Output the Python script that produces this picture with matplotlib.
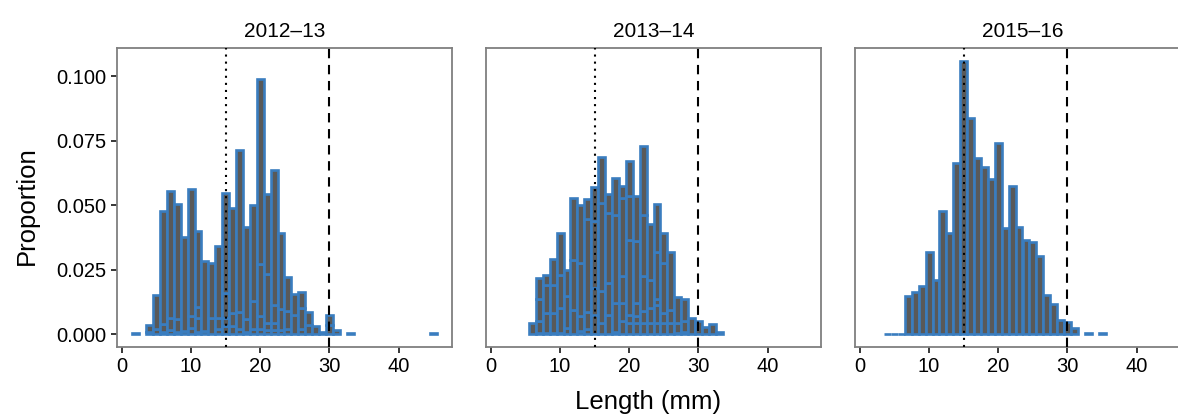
import numpy as np
import matplotlib
matplotlib.use('Agg')
import matplotlib.pyplot as plt

plt.rcParams['font.family'] = ['Liberation Sans', 'DejaVu Sans']

seasons = ['2012\u201313', '2013\u201314', '2015\u201316']

# Bin centres (mm) and stacked segment heights (per mille) for each season.
# splits are the heights where one stacked group ends and the next starts.
bins_1213 = [2, 4, 5, 6, 7, 8, 9, 10, 11, 12, 13, 14, 15, 16, 17, 18, 19, 20,
             21, 22, 23, 24, 25, 26, 27, 28, 29, 30, 31, 33, 45]
total_1213 = [0.3, 3.4, 15.1, 47.8, 55.7, 50.3, 37.6, 56.3, 40.1, 28.2, 27.6, 34.1,
              54.8, 49.1, 71.4, 41.4, 50.0, 98.8, 54.5, 63.7, 39.4, 22.3, 15.4,
              16.4, 8.6, 3.0, 0.7, 7.6, 1.5, 0.3, 0.3]
splits_1213 = [[], [1.0], [2.1], [1.0, 4.1], [1.5, 6.1], [1.0, 5.7], [1.2], [2.4, 7.0],
               [1.0, 6.2, 10.4], [1.2], [6.3], [1.8, 6.1], [3.1, 6.1, 16.0],
               [3.1, 8.0], [1.8, 8.5], [1.0, 5.7], [2.0, 12.8], [1.8, 7.2, 27.2],
               [1.5, 4.4, 23.3], [1.5, 4.4, 11.2], [1.5, 9.8], [2.0, 8.9], [7.6],
               [1.8, 10.2], [3.7], [], [], [3.7], [], [], []]

bins_1314 = list(range(6, 34))
total_1314 = [4.4, 21.9, 22.8, 29.3, 39.4, 24.7, 53.0, 49.9, 52.4, 57.2, 68.7, 54.3,
              60.7, 57.6, 67.3, 53.6, 72.8, 42.9, 50.5, 39.2, 32.0, 14.3, 13.8, 6.3,
              5.0, 2.8, 4.1, 0.8]
splits_1314 = [[], [0.5, 5.0, 13.7], [0.5, 8.2, 19.2], [0.5, 8.2, 19.2],
               [0.5, 10.2, 22.8], [2.4, 14.7], [9.3, 28.6], [1.2, 7.2, 27.6],
               [1.8, 8.5, 44.6], [7.6, 17.9, 43.7], [4.4, 16.6, 50.8],
               [7.6, 19.8, 46.9], [1.0, 12.1, 46.3], [5.0, 12.1, 22.4, 52.7],
               [4.4, 7.6, 36.6, 53.4], [4.4, 7.0, 12.1, 36.0], [4.4, 8.9, 22.4, 46.3],
               [4.4, 10.2, 21.1], [4.4, 11.2, 13.7, 31.8], [4.4, 8.2, 27.6],
               [4.4, 9.5], [0.5, 4.4], [1.0, 5.0], [], [], [], [], []]

bins_1516 = [4, 5, 6, 7, 8, 9, 10, 11, 12, 13, 14, 15, 16, 17, 18, 19, 20, 21, 22,
             23, 24, 25, 26, 27, 28, 29, 30, 31, 33, 35]
total_1516 = [0.2, 0.2, 0.2, 14.7, 16.2, 18.6, 32.0, 21.1, 47.8, 39.4, 66.5, 105.9,
              84.0, 68.2, 64.9, 60.1, 74.2, 41.1, 57.6, 41.4, 36.6, 35.8, 30.4, 15.3,
              11.5, 5.3, 4.6, 2.2, 0.3, 0.3]
splits_1516 = [[] for _ in bins_1516]

panels = [(bins_1213, total_1213, splits_1213),
          (bins_1314, total_1314, splits_1314),
          (bins_1516, total_1516, splits_1516)]

fill_col = '#595959'
edge_col = '#3a7dbf'

fig = plt.figure(figsize=(11.78, 4.16), dpi=100)
W, H = 1178, 416
lefts = [117, 486, 855]
axes = []
for left in lefts:
    ax = fig.add_axes([left / W, 1 - 347 / H, 335 / W, (347 - 48) / H])
    axes.append(ax)

for i, ax in enumerate(axes):
    bins, totals, splits = panels[i]
    for b, tot, sp in zip(bins, totals, splits):
        # build stacked segments from the split points
        edges = [0] + sp + [tot]
        for lo, hi in zip(edges[:-1], edges[1:]):
            ax.bar(b, (hi - lo) / 1000, bottom=lo / 1000, width=1.0,
                   color=fill_col, edgecolor=edge_col, linewidth=1.9, zorder=2)

    # reference lines
    ax.axvline(15, color='black', linestyle=(0, (1, 2.4)), linewidth=1.5, zorder=3)
    ax.axvline(30, color='black', linestyle=(0, (4.5, 3.2)), linewidth=1.5, zorder=3)

    ax.set_xlim(-0.7, 47.7)
    ax.set_ylim(-0.0050, 0.1110)
    ax.set_xticks([0, 10, 20, 30, 40])
    ax.tick_params(axis='both', labelsize=14.5, length=4, width=1.1, colors='black')
    for s in ax.spines.values():
        s.set_color('#7f7f7f')
        s.set_linewidth(1.3)
    ax.set_title(seasons[i], fontsize=15, pad=8)
    if i == 0:
        ax.set_yticks([0.0, 0.025, 0.05, 0.075, 0.1])
        ax.set_yticklabels(['0.000', '0.025', '0.050', '0.075', '0.100'])
    else:
        ax.set_yticks([])

fig.text(648 / W, 1 - 402 / H, 'Length (mm)', ha='center', va='center', fontsize=18.5)
fig.text(27 / W, 1 - 206 / H, 'Proportion', ha='center', va='center',
         rotation=90, fontsize=18.5)

plt.savefig('out.png', dpi=100)
